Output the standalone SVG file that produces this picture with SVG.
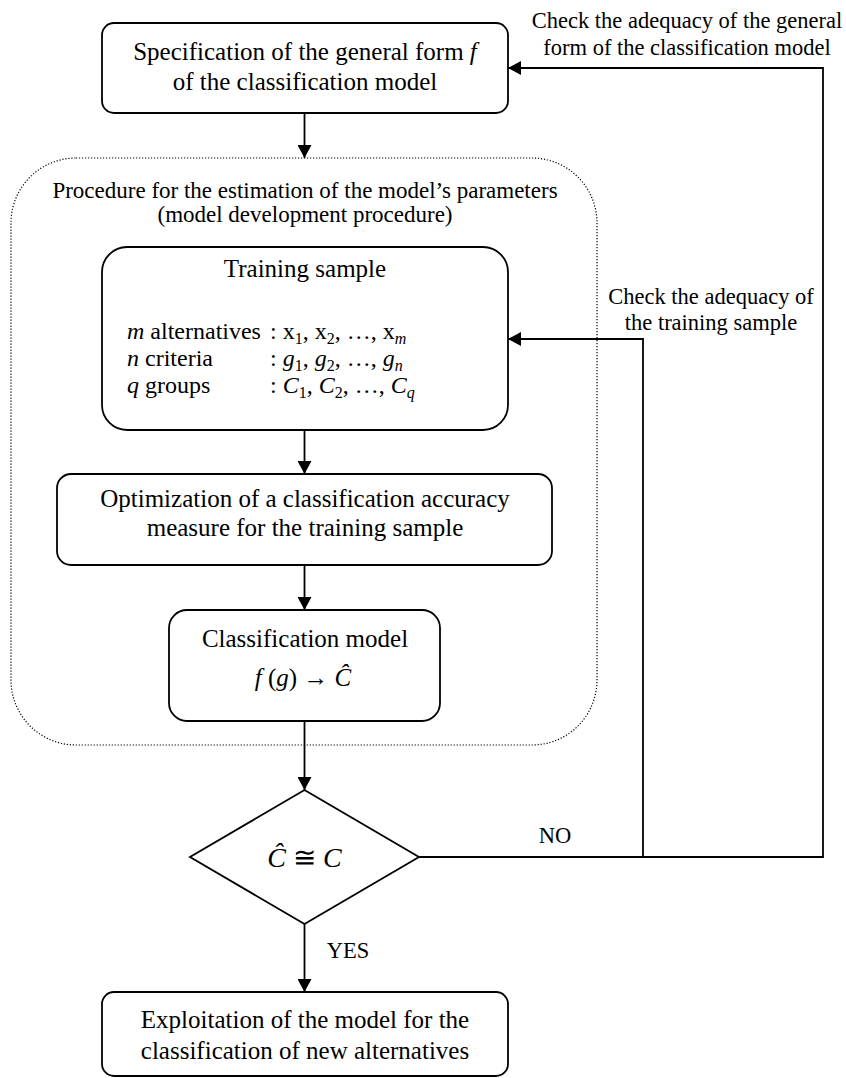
<svg xmlns="http://www.w3.org/2000/svg" width="846" height="1078" viewBox="0 0 846 1078">
<defs>
<marker id="ah" markerWidth="14" markerHeight="14" refX="13" refY="7" orient="auto" markerUnits="userSpaceOnUse">
<path d="M0,0 L13,7 L0,14 Z" fill="#000"/>
</marker>
<style>
.box{fill:#fff;stroke:#000;stroke-width:1.8}
.dot{fill:none;stroke:#000;stroke-width:1.2;stroke-dasharray:1.2 1.8}
.ln{fill:none;stroke:#000;stroke-width:1.8}
text{font-family:"Liberation Serif","Times New Roman","DejaVu Serif",serif;fill:#000}
.t{font-size:25px;text-anchor:middle}
.s{font-size:22.5px;text-anchor:middle}
.h{font-size:23px;text-anchor:middle}
.r{font-size:24px}
.i{font-style:italic}
</style>
</defs>
<rect width="846" height="1078" fill="#fff"/>
<g id="procedure">
<rect class="dot" x="11" y="158" width="586" height="587" rx="65"/>
<text class="h" x="305" y="198">Procedure for the estimation of the model’s parameters</text>
<text class="h" x="305" y="222">(model development procedure)</text>
</g>
<g id="connectors">
<line class="ln" x1="304.5" y1="113" x2="304.5" y2="158" marker-end="url(#ah)"/>
<line class="ln" x1="304.5" y1="430" x2="304.5" y2="474" marker-end="url(#ah)"/>
<line class="ln" x1="304.5" y1="565" x2="304.5" y2="610" marker-end="url(#ah)"/>
<line class="ln" x1="304.5" y1="721" x2="304.5" y2="790" marker-end="url(#ah)"/>
<line class="ln" x1="304.5" y1="924" x2="304.5" y2="992" marker-end="url(#ah)"/>
<polyline class="ln" points="419,857 823,857 823,68 508,68" marker-end="url(#ah)"/>
<polyline class="ln" points="643,857 643,339 508,339" marker-end="url(#ah)"/>
<text class="s" x="687" y="28">Check the adequacy of the general</text>
<text class="s" x="687" y="55">form of the classification model</text>
<text class="s" x="711" y="304">Check the adequacy of</text>
<text class="s" x="711" y="330">the training sample</text>
<text class="s" x="555" y="843">NO</text>
<text class="s" x="348" y="958">YES</text>
</g>
<g id="spec">
<rect class="box" x="102" y="23" width="406" height="90" rx="12"/>
<text class="t" x="305" y="60">Specification of the general form <tspan class="i">f</tspan></text>
<text class="t" x="305" y="90">of the classification model</text>
</g>
<g id="training">
<rect class="box" x="102" y="247" width="406" height="183" rx="25"/>
<text class="t" x="305" y="277">Training sample</text>
<text class="r" x="127" y="339"><tspan class="i">m</tspan> alternatives</text>
<text class="r" x="270" y="339">: x<tspan font-size="16" dy="5">1</tspan><tspan dy="-5">, x</tspan><tspan font-size="16" dy="5">2</tspan><tspan dy="-5">, …, x</tspan><tspan font-size="16" dy="5" class="i">m</tspan></text>
<text class="r" x="127" y="366"><tspan class="i">n</tspan> criteria</text>
<text class="r" x="270" y="366">: <tspan class="i">g</tspan><tspan font-size="16" dy="5">1</tspan><tspan dy="-5">, </tspan><tspan class="i">g</tspan><tspan font-size="16" dy="5">2</tspan><tspan dy="-5">, …, </tspan><tspan class="i">g</tspan><tspan font-size="16" dy="5" class="i">n</tspan></text>
<text class="r" x="127" y="393"><tspan class="i">q</tspan> groups</text>
<text class="r" x="270" y="393">: <tspan class="i">C</tspan><tspan font-size="16" dy="5">1</tspan><tspan dy="-5">, </tspan><tspan class="i">C</tspan><tspan font-size="16" dy="5">2</tspan><tspan dy="-5">, …, </tspan><tspan class="i">C</tspan><tspan font-size="16" dy="5" class="i">q</tspan></text>
</g>
<g id="optimization">
<rect class="box" x="57" y="474" width="495" height="91" rx="14"/>
<text class="t" x="305" y="507">Optimization of a classification accuracy</text>
<text class="t" x="305" y="536">measure for the training sample</text>
</g>
<g id="model">
<rect class="box" x="169" y="610" width="271" height="111" rx="18"/>
<text class="t" x="305" y="647">Classification model</text>
<text class="t" x="303" y="686"><tspan class="i">f</tspan> (<tspan class="i">g</tspan>) → <tspan class="i">Ĉ</tspan></text>
</g>
<g id="decision">
<polygon class="box" points="304.5,790 419,857 304.5,924 190,857"/>
<text x="304.5" y="867" font-size="28" text-anchor="middle"><tspan class="i">Ĉ</tspan> ≅ <tspan class="i">C</tspan></text>
</g>
<g id="exploitation">
<rect class="box" x="102" y="992" width="406" height="84" rx="12"/>
<text class="t" x="305" y="1028">Exploitation of the model for the</text>
<text class="t" x="305" y="1059">classification of new alternatives</text>
</g>
</svg>
